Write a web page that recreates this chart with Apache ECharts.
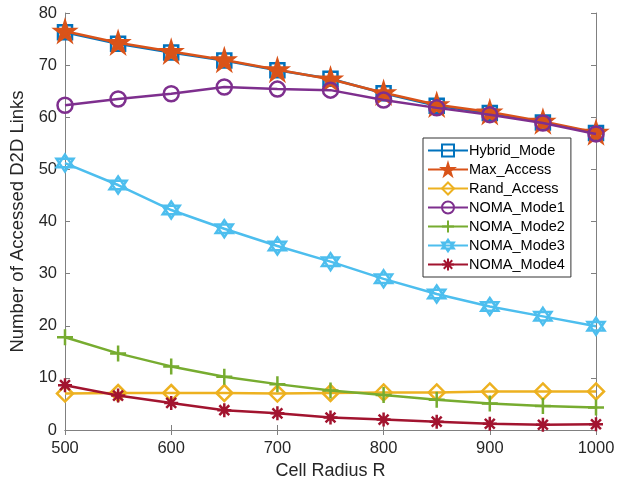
<!DOCTYPE html>
<html><head><meta charset="utf-8">
<script src="https://cdn.jsdelivr.net/npm/echarts@6/dist/echarts.min.js"></script>
<style>html,body{margin:0;padding:0;background:#fff}#c{width:623px;height:485px}</style>
</head><body><div id="c"></div>
<script>
var radius = [500, 550, 600, 650, 700, 750, 800, 850, 900, 950, 1000];
var hybridMode = [76.3, 74.1, 72.4, 70.9, 69.0, 67.4, 64.6, 62.2, 60.8, 59.0, 57.0];
var maxAccess  = [76.5, 74.3, 72.6, 71.0, 69.1, 67.3, 64.7, 62.4, 61.0, 59.2, 57.1];
var randAccess = [7.0, 7.1, 7.1, 7.1, 7.0, 7.1, 7.2, 7.2, 7.4, 7.4, 7.4];
var nomaMode1  = [62.3, 63.5, 64.5, 65.8, 65.4, 65.2, 63.3, 61.8, 60.5, 58.9, 56.8];
var nomaMode2  = [17.8, 14.7, 12.2, 10.2, 8.8, 7.6, 6.7, 5.8, 5.1, 4.6, 4.3];
var nomaMode3  = [51.2, 47.0, 42.2, 38.6, 35.3, 32.3, 29.0, 26.1, 23.7, 21.8, 19.9];
var nomaMode4  = [8.6, 6.6, 5.2, 3.8, 3.2, 2.4, 2.0, 1.6, 1.2, 1.0, 1.1];
var seriesNames = ['Hybrid_Mode','Max_Access','Rand_Access','NOMA_Mode1','NOMA_Mode2','NOMA_Mode3','NOMA_Mode4'];
var xTicks = [500, 600, 700, 800, 900, 1000];
var yTicks = [0, 10, 20, 30, 40, 50, 60, 70, 80];

var allData = [hybridMode, maxAccess, randAccess, nomaMode1, nomaMode2, nomaMode3, nomaMode4];
var colors = ['#0072BD','#D95319','#EDB120','#7E2F8E','#77AC30','#4DBEEE','#A2142F'];
var PENT = 'path://M0,-1 L0.2245,-0.309 L0.951,-0.309 L0.363,0.118 L0.588,0.809 L0,0.382 L-0.588,0.809 L-0.363,0.118 L-0.951,-0.309 L-0.2245,-0.309 Z';
var HEXA = 'path://M0,-1 L0.866,0.5 L-0.866,0.5 Z M0,1 L-0.866,-0.5 L0.866,-0.5 Z';
var PLUS = 'path://M0,-1 L0,1 M-1,0 L1,0';
var AST = 'path://M0,-1 L0,1 M-1,0 L1,0 M-0.707,-0.707 L0.707,0.707 M-0.707,0.707 L0.707,-0.707';
var symbols = ['rect', PENT, 'diamond', 'circle', PLUS, HEXA, AST];
var sizes = [14, 20, 16, 15, 16, 17, 14];
var filled = [false, true, false, false, false, false, false];

var series = allData.map(function (arr, i) {
  return {
    name: seriesNames[i],
    type: 'line',
    data: arr.map(function (v, k) { return [radius[k], v]; }),
    symbol: symbols[i],
    symbolSize: sizes[i],
    showAllSymbol: true,
    lineStyle: { color: colors[i], width: 2.5 },
    itemStyle: { color: filled[i] ? colors[i] : 'rgba(0,0,0,0)', borderColor: colors[i], borderWidth: 2.5 },
    emphasis: { disabled: true },
    animation: false,
    z: 2 + i
  };
});

var axisLineStyle = { color: '#808080', width: 1 };
var chart = echarts.init(document.getElementById('c'), null, { renderer: 'canvas' });
chart.setOption({
  animation: false,
  backgroundColor: '#fff',
  textStyle: { fontFamily: 'Liberation Sans, Arial, sans-serif' },
  grid: { left: 65, right: 27, top: 13, bottom: 52, containLabel: false },
  legend: {
    data: seriesNames,
    orient: 'vertical',
    left: 423,
    top: 138,
    padding: [5, 6, 5, 4],
    itemGap: 4,
    itemWidth: 40,
    itemHeight: 15,
    backgroundColor: '#fff',
    borderColor: '#333',
    borderWidth: 1,
    borderRadius: 0,
    textStyle: { fontSize: 14.5, color: '#000', padding: [0, 0, 0, -4] }
  },
  xAxis: [{
    type: 'value', min: 500, max: 1000, interval: 100,
    name: 'Cell Radius R', nameLocation: 'middle', nameGap: 32,
    nameTextStyle: { fontSize: 18, color: '#262626' },
    axisLine: { show: true, lineStyle: axisLineStyle },
    axisTick: { show: true, inside: true, length: 5, lineStyle: axisLineStyle },
    axisLabel: { fontSize: 16.5, color: '#262626', margin: 10,
      formatter: function (v) { return xTicks.indexOf(v) >= 0 ? String(v) : ''; } },
    splitLine: { show: false }
  }, {
    type: 'value', min: 500, max: 1000, interval: 100, position: 'top',
    axisLine: { show: true, lineStyle: axisLineStyle },
    axisTick: { show: true, inside: true, length: 5, lineStyle: axisLineStyle },
    axisLabel: { show: false }, splitLine: { show: false }
  }],
  yAxis: [{
    type: 'value', min: 0, max: 80, interval: 10,
    name: 'Number of Accessed D2D Links', nameLocation: 'middle', nameGap: 31,
    nameTextStyle: { fontSize: 18.5, color: '#262626' },
    axisLine: { show: true, lineStyle: axisLineStyle },
    axisTick: { show: true, inside: true, length: 5, lineStyle: axisLineStyle },
    axisLabel: { fontSize: 16.5, color: '#262626', margin: 8,
      formatter: function (v) { return yTicks.indexOf(v) >= 0 ? String(v) : ''; } },
    splitLine: { show: false }
  }, {
    type: 'value', min: 0, max: 80, interval: 10, position: 'right',
    axisLine: { show: true, lineStyle: axisLineStyle },
    axisTick: { show: true, inside: true, length: 5, lineStyle: axisLineStyle },
    axisLabel: { show: false }, splitLine: { show: false }
  }],
  series: series
});
</script>
</body></html>
